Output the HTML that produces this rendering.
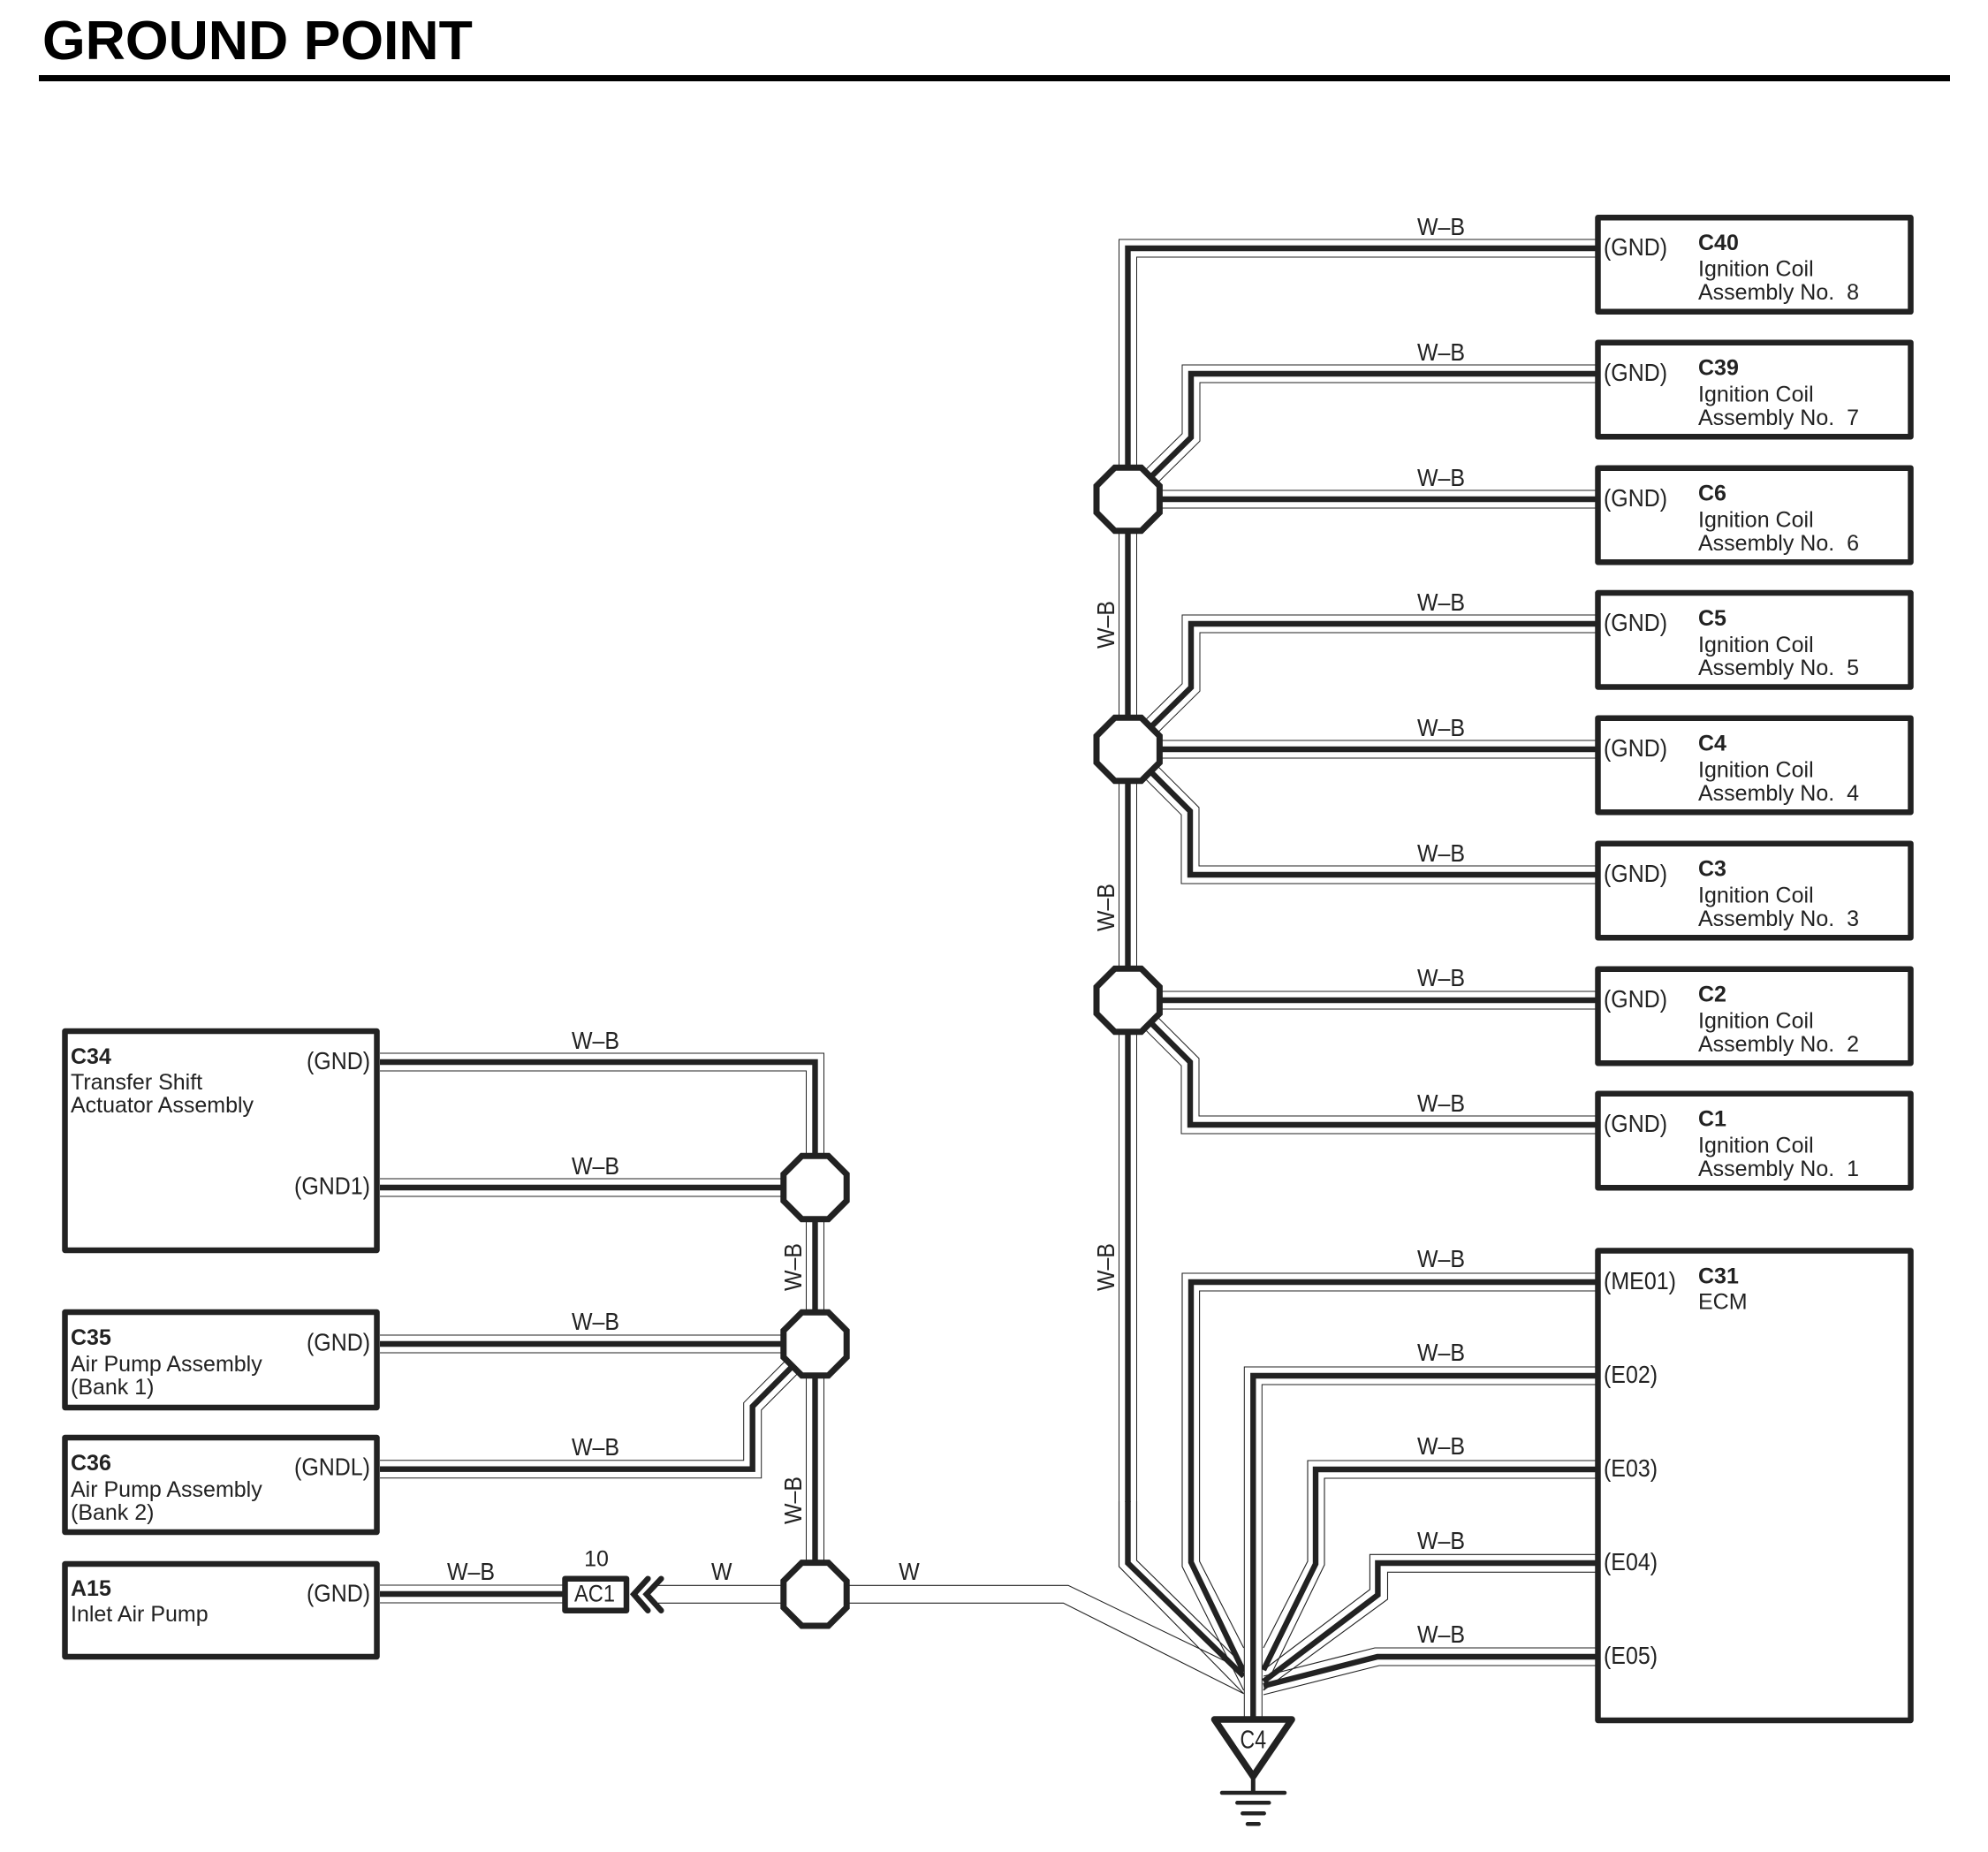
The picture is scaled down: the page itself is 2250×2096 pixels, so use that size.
<!DOCTYPE html>
<html><head><meta charset="utf-8"><title>Ground Point</title>
<style>
html,body{margin:0;padding:0;background:#fff}
svg{display:block}
text{font-family:"Liberation Sans",Arial,sans-serif;font-size:25px;fill:#222;white-space:pre}
.t{font-size:28px}
.b{font-weight:bold}
.m{text-anchor:middle}
.e{text-anchor:end}
.box{fill:#fff;stroke:#222;stroke-width:6.5;stroke-linejoin:round}
.thin{fill:none;stroke:#222;stroke-width:1.1}
.thick{fill:none;stroke:#222;stroke-width:6.4}
.c1{fill:none;stroke:#222;stroke-width:21}
.c2{fill:none;stroke:#fff;stroke-width:19}
.oct{fill:#fff;stroke:#222;stroke-width:7}
</style></head>
<body>
<svg width="2250" height="2096" viewBox="0 0 2250 2096" xmlns="http://www.w3.org/2000/svg">
<rect width="2250" height="2096" fill="#fff"/>
<text x="48" y="67" class="b" style="font-size:62.6px;fill:#000">GROUND POINT</text>
<rect x="44" y="85" width="2163" height="7" fill="#000"/>

<defs>
<path id="w" d="M1812 423H1348V495L1277 565M1812 565H1277M1812 706H1348V778L1277 848M1812 848H1277M1812 990H1347V918L1277 848M1812 1132H1277M1812 1273H1347V1202L1277 1132M1812 281H1276.5V1700M430 1202H922.5V1804M430 1344H922M430 1521H922M430 1662.7H851.7V1591.7L922 1521M430 1804H640"/>
<path id="ctr" d="M1812 1557H1418.3V1950"/>
<polygon id="o" points="-15,-35.7 15,-35.7 35.7,-15 35.7,15 15,35.7 -15,35.7 -35.7,15 -35.7,-15"/>
</defs>

<use href="#w" class="c1"/><use href="#w" class="c2"/><use href="#w" class="thick"/>

<!-- fan-in thin conductors -->
<path class="thin" d="M1266.5 1699V1773L1407.6 1916.7M1286.5 1699V1766L1407.6 1885"/>
<path class="thin" d="M1812 1441H1338V1773L1407.6 1913M1812 1461H1357.6V1767L1407.6 1865"/>
<path class="thin" d="M1812 1653H1480V1767L1430 1865M1812 1673H1499V1771L1430 1913"/>
<path class="thin" d="M1812 1759.3H1550.4V1799L1430 1890M1812 1779.3H1570.5V1810L1430 1913"/>
<path class="thin" d="M1812 1865H1556L1430 1897M1812 1885H1561L1430 1918"/>
<path class="thin" d="M745 1794.3H1209L1407.6 1890M745 1814.3H1203.5L1407.6 1916.7"/>
<path class="thick" d="M1276.5 1699V1769L1407.6 1897"/>
<path class="thick" d="M1812 1451H1348V1768L1407.6 1892"/>
<path class="thick" d="M1812 1663H1489V1770L1430 1890"/>
<path class="thick" d="M1812 1769H1559.4V1805L1430 1903"/>
<path class="thick" d="M1812 1875H1559L1430 1908"/>

<use href="#ctr" class="c1"/><use href="#ctr" class="c2"/><use href="#ctr" class="thick"/>

<!-- junctions -->
<use href="#o" class="oct" x="1276.7" y="565"/>
<use href="#o" class="oct" x="1276.7" y="848"/>
<use href="#o" class="oct" x="1276.7" y="1132"/>
<use href="#o" class="oct" x="922.5" y="1344"/>
<use href="#o" class="oct" x="922.5" y="1521"/>
<use href="#o" class="oct" x="922.5" y="1804.3"/>

<!-- right boxes -->
<rect class="box" x="1808.5" y="246.3" width="354" height="106.5"/>
<rect class="box" x="1808.5" y="387.7" width="354" height="106.5"/>
<rect class="box" x="1808.5" y="529.7" width="354" height="106.5"/>
<rect class="box" x="1808.5" y="671" width="354" height="106.5"/>
<rect class="box" x="1808.5" y="812.7" width="354" height="106.5"/>
<rect class="box" x="1808.5" y="954.7" width="354" height="106.5"/>
<rect class="box" x="1808.5" y="1096.7" width="354" height="106.5"/>
<rect class="box" x="1808.5" y="1237.7" width="354" height="106.5"/>
<rect class="box" x="1808.5" y="1415.5" width="354" height="531.5"/>

<!-- left boxes -->
<rect class="box" x="73.5" y="1167" width="353" height="248"/>
<rect class="box" x="73.5" y="1485" width="353" height="108"/>
<rect class="box" x="73.5" y="1627" width="353" height="107"/>
<rect class="box" x="73.5" y="1770" width="353" height="105"/>

<!-- connector AC1 -->
<rect x="639.5" y="1786.7" width="69.5" height="36" fill="#fff" stroke="#222" stroke-width="6.5" stroke-linejoin="round"/>
<path d="M733.3 1786.7L717.3 1804.3L733.3 1822.7M748.3 1786.7L731.7 1804.3L748.3 1822.7" fill="none" stroke="#222" stroke-width="6.5" stroke-linecap="round"/>

<!-- ground -->
<path d="M1374.5 1946H1462.1L1418.3 2010.5Z" fill="#fff" stroke="#222" stroke-width="7.5" stroke-linejoin="round"/>
<path d="M1418.3 2010V2029" stroke="#222" stroke-width="5" fill="none"/>
<path d="M1383 2029H1454M1400.3 2040.3H1436.3M1406.3 2052.3H1430.7M1412 2064.3H1424.7" stroke="#222" stroke-width="4.5" stroke-linecap="round" fill="none"/>
<text x="1418.3" y="1978.3" class="m" style="font-size:29px" textLength="29.5" lengthAdjust="spacingAndGlyphs">C4</text>

<!-- right box text -->
<text x="1815" y="289" class="t" textLength="72" lengthAdjust="spacingAndGlyphs">(GND)</text><text x="1922" y="283" class="b">C40</text><text x="1922" y="312.5">Ignition Coil</text><text x="1922" y="339">Assembly No.  8</text>
<text x="1815" y="431" class="t" textLength="72" lengthAdjust="spacingAndGlyphs">(GND)</text><text x="1922" y="424.5" class="b">C39</text><text x="1922" y="454.5">Ignition Coil</text><text x="1922" y="481">Assembly No.  7</text>
<text x="1815" y="573" class="t" textLength="72" lengthAdjust="spacingAndGlyphs">(GND)</text><text x="1922" y="566.5" class="b">C6</text><text x="1922" y="596.5">Ignition Coil</text><text x="1922" y="623">Assembly No.  6</text>
<text x="1815" y="714" class="t" textLength="72" lengthAdjust="spacingAndGlyphs">(GND)</text><text x="1922" y="708" class="b">C5</text><text x="1922" y="738">Ignition Coil</text><text x="1922" y="764">Assembly No.  5</text>
<text x="1815" y="856" class="t" textLength="72" lengthAdjust="spacingAndGlyphs">(GND)</text><text x="1922" y="849.5" class="b">C4</text><text x="1922" y="879.5">Ignition Coil</text><text x="1922" y="906">Assembly No.  4</text>
<text x="1815" y="998" class="t" textLength="72" lengthAdjust="spacingAndGlyphs">(GND)</text><text x="1922" y="991.5" class="b">C3</text><text x="1922" y="1021.5">Ignition Coil</text><text x="1922" y="1048">Assembly No.  3</text>
<text x="1815" y="1140" class="t" textLength="72" lengthAdjust="spacingAndGlyphs">(GND)</text><text x="1922" y="1133.5" class="b">C2</text><text x="1922" y="1163.5">Ignition Coil</text><text x="1922" y="1190">Assembly No.  2</text>
<text x="1815" y="1281" class="t" textLength="72" lengthAdjust="spacingAndGlyphs">(GND)</text><text x="1922" y="1274.5" class="b">C1</text><text x="1922" y="1304.5">Ignition Coil</text><text x="1922" y="1331">Assembly No.  1</text>
<text x="1815" y="1459" class="t" textLength="82" lengthAdjust="spacingAndGlyphs">(ME01)</text><text x="1922" y="1452.5" class="b">C31</text><text x="1922" y="1481.5">ECM</text>
<text x="1815" y="1565" class="t" textLength="61" lengthAdjust="spacingAndGlyphs">(E02)</text>
<text x="1815" y="1671" class="t" textLength="61" lengthAdjust="spacingAndGlyphs">(E03)</text>
<text x="1815" y="1777" class="t" textLength="61" lengthAdjust="spacingAndGlyphs">(E04)</text>
<text x="1815" y="1883" class="t" textLength="61" lengthAdjust="spacingAndGlyphs">(E05)</text>

<!-- left box text -->
<text x="80" y="1204" class="b">C34</text><text x="80" y="1233">Transfer Shift</text><text x="80" y="1259">Actuator Assembly</text>
<text x="419" y="1210" class="e t" textLength="72" lengthAdjust="spacingAndGlyphs">(GND)</text><text x="419" y="1351.5" class="e t" textLength="86" lengthAdjust="spacingAndGlyphs">(GND1)</text>
<text x="80" y="1522" class="b">C35</text><text x="80" y="1552">Air Pump Assembly</text><text x="80" y="1578">(Bank 1)</text>
<text x="419" y="1528.5" class="e t" textLength="72" lengthAdjust="spacingAndGlyphs">(GND)</text>
<text x="80" y="1664" class="b">C36</text><text x="80" y="1694">Air Pump Assembly</text><text x="80" y="1720">(Bank 2)</text>
<text x="419" y="1669.5" class="e t" textLength="86" lengthAdjust="spacingAndGlyphs">(GNDL)</text>
<text x="80" y="1806" class="b">A15</text><text x="80" y="1835">Inlet Air Pump</text>
<text x="419" y="1812.5" class="e t" textLength="72" lengthAdjust="spacingAndGlyphs">(GND)</text>

<!-- wire labels -->
<text x="1631" y="266" class="m t" textLength="54" lengthAdjust="spacingAndGlyphs">W–B</text>
<text x="1631" y="408" class="m t" textLength="54" lengthAdjust="spacingAndGlyphs">W–B</text>
<text x="1631" y="550" class="m t" textLength="54" lengthAdjust="spacingAndGlyphs">W–B</text>
<text x="1631" y="691" class="m t" textLength="54" lengthAdjust="spacingAndGlyphs">W–B</text>
<text x="1631" y="833" class="m t" textLength="54" lengthAdjust="spacingAndGlyphs">W–B</text>
<text x="1631" y="975" class="m t" textLength="54" lengthAdjust="spacingAndGlyphs">W–B</text>
<text x="1631" y="1116" class="m t" textLength="54" lengthAdjust="spacingAndGlyphs">W–B</text>
<text x="1631" y="1258" class="m t" textLength="54" lengthAdjust="spacingAndGlyphs">W–B</text>
<text x="1631" y="1434" class="m t" textLength="54" lengthAdjust="spacingAndGlyphs">W–B</text>
<text x="1631" y="1540" class="m t" textLength="54" lengthAdjust="spacingAndGlyphs">W–B</text>
<text x="1631" y="1646" class="m t" textLength="54" lengthAdjust="spacingAndGlyphs">W–B</text>
<text x="1631" y="1753" class="m t" textLength="54" lengthAdjust="spacingAndGlyphs">W–B</text>
<text x="1631" y="1859" class="m t" textLength="54" lengthAdjust="spacingAndGlyphs">W–B</text>
<text x="674" y="1187" class="m t" textLength="54" lengthAdjust="spacingAndGlyphs">W–B</text>
<text x="674" y="1329" class="m t" textLength="54" lengthAdjust="spacingAndGlyphs">W–B</text>
<text x="674" y="1505" class="m t" textLength="54" lengthAdjust="spacingAndGlyphs">W–B</text>
<text x="674" y="1647" class="m t" textLength="54" lengthAdjust="spacingAndGlyphs">W–B</text>
<text x="533" y="1788" class="m t" textLength="54" lengthAdjust="spacingAndGlyphs">W–B</text>
<text x="816.7" y="1788" class="m t" textLength="23.5" lengthAdjust="spacingAndGlyphs">W</text>
<text x="1029" y="1788" class="m t" textLength="23.5" lengthAdjust="spacingAndGlyphs">W</text>
<text x="675" y="1772.5" class="m">10</text>
<text x="673" y="1812.7" class="m" style="font-size:27px" textLength="46" lengthAdjust="spacingAndGlyphs">AC1</text>
<text class="m t" textLength="54" lengthAdjust="spacingAndGlyphs" transform="translate(1261 707) rotate(-90)">W–B</text>
<text class="m t" textLength="54" lengthAdjust="spacingAndGlyphs" transform="translate(1261 1027) rotate(-90)">W–B</text>
<text class="m t" textLength="54" lengthAdjust="spacingAndGlyphs" transform="translate(1261 1434) rotate(-90)">W–B</text>
<text class="m t" textLength="54" lengthAdjust="spacingAndGlyphs" transform="translate(907 1434) rotate(-90)">W–B</text>
<text class="m t" textLength="54" lengthAdjust="spacingAndGlyphs" transform="translate(907 1698) rotate(-90)">W–B</text>
</svg>
</body></html>
